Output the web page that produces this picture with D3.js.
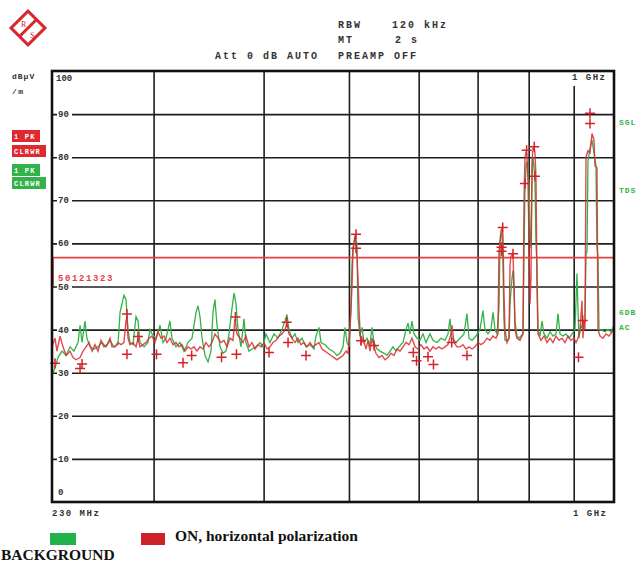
<!DOCTYPE html>
<html>
<head>
<meta charset="utf-8">
<script src="https://cdn.jsdelivr.net/npm/d3@7"></script>
<style>
  body { margin: 0; background: #fff; }
  .mono { font-family: "Liberation Mono", "DejaVu Sans Mono", monospace; font-weight: bold; }
</style>
</head>
<body>
<script>
// frequency axis (MHz, log) and level axis (dBuV/m)
var freqTicks = [300, 400, 500, 600, 700, 800, 900];
var levelTicks = [10, 20, 30, 40, 50, 60, 70, 80, 90];
var limitLevel = 56.7;

// BACKGROUND trace (green)
var bgFreq = [230,231.8,233.6,236.1,238.6,241.1,243.6,246.2,247.5,248.8,250.7,252.0,254.0,256.7,259.4,262.1,264.9,267.7,270.5,273.3,
  274.8,276.2,277.6,279.1,280.6,282.0,284.3,286.5,288.0,289.5,292.6,295.6,297.2,298.7,301.9,305.1,307.5,309.9,313.1,314.8,
  318.1,321.4,324.8,328.2,331.7,335.2,336.9,338.7,340.5,343.2,345.9,348.6,350.4,352.2,354.1,356.9,359.7,362.5,365.4,368.3,
  370.2,372.1,374.1,377.0,380.0,382.0,385.0,388.0,392.1,396.2,399.4,402.5,406.7,411.0,415.3,419.7,423.0,425.2,427.4,430.8,
  434.2,437.6,442.2,446.9,451.6,456.3,458.7,462.3,464.8,469.6,474.6,479.6,484.6,488.4,492.3,494.9,497.5,500.1,502.7,504.0,
  505.3,508.0,510.6,512.0,514.6,517.4,520.1,524.2,528.3,531.1,533.8,538.1,542.3,548.0,552.3,556.7,561.0,565.5,569.9,575.9,
  580.4,583.5,586.5,589.6,592.7,597.4,602.1,606.8,611.6,618.0,622.9,629.5,636.1,642.8,647.8,651.2,654.6,661.5,668.5,675.5,
  680.8,684.4,689.8,697.0,704.4,709.9,713.6,719.3,724.9,728.7,732.6,736.4,740.2,742.2,744.1,746.1,748.0,750.0,752.0,755.9,
  759.9,761.9,765.9,767.9,769.9,771.9,775.9,780.0,784.1,788.2,790.3,792.3,794.4,796.5,798.6,800.7,802.8,804.9,807.0,809.1,
  811.2,813.3,815.5,817.6,819.7,824.0,828.4,832.7,839.3,845.9,852.5,859.2,863.7,868.3,875.1,882.0,888.9,896.0,903.0,907.7,
  910.1,912.5,917.3,922.1,926.9,929.4,931.8,934.2,939.1,944.1,949.0,954.0,956.5,959.0,961.5,969.1,976.7,984.4,992.1,1000];
var bgLevel = [29.5,31,33.5,35,34,36,35,37,41,37,42,38,36,35.5,36,37,36,37.5,36,36.5,
  44,46,48,47,40,37,36.5,43,42,37,36,37,40,39,38,41,37,38,42,38,
  36,37,35,37,38,44,45.5,43,38,34,32.5,35,44,47,41,36,34.5,35,39,45,
  48.5,46,40,36,42.5,37,35,35.5,36,37,36,39,37,39,38,40,42,43.5,40,38,
  39,37,38,36,36.5,35.5,38.5,40.5,37,36.5,35.5,35,34,34.5,36,40.5,37,36,45,55,
  59,61.5,60,43,38.5,40.5,37,38,36.5,40.5,37,35.5,35,34.5,34,35,36,35,36,37,
  40,41.5,39,42,39,38,37.5,39,37,39,37.5,37,38,37.5,39,42.5,38,37,38,39,
  43.7,38,37.5,38.5,40,44.4,40,39,40,44,40,39,45,60,62,62.5,55,42,37.5,37.5,
  38,46,52,53.7,50,42,38.5,38,38.5,39,58,72,78,79,76,74,61,59,75,80,
  78,74,60,55,40,38.5,42,39,38,39.5,38.5,39,43.7,39,38.5,39,38,39,40,53,
  45,38,41,40,42,57.6,58,79,82,84,81,78,59,57,40,39.8,39.5,40,39.5,41];

// ON, horizontal polarization trace (red)
var onFreq = [230,231.8,233.0,234.9,236.7,238.6,241.1,243.0,244.9,247.5,249.4,251.4,253.4,255.4,257.4,259.4,261.4,263.5,265.6,267.7,
  269.1,271.2,273.3,275.5,277.6,279.1,279.8,280.6,282.0,284.3,286.5,288.0,289.5,291.8,294.1,296.4,298.7,301.1,303.5,305.9,
  308.3,310.7,313.1,315.6,318.1,320.6,323.1,325.7,328.2,330.8,333.4,336.0,338.7,341.4,344.0,346.8,349.5,352.2,355.0,357.8,
  360.6,363.5,366.3,369.2,371.2,373.1,376.0,379.0,382.0,385.0,388.0,391.1,394.2,397.3,400.4,403.6,406.7,409.9,413.2,416.4,
  419.7,423.0,425.2,427.4,430.8,434.2,437.6,441.1,444.5,448.0,451.6,455.1,458.7,462.3,466.0,469.6,473.3,477.1,480.8,484.6,
  488.4,492.3,496.2,498.8,501.4,504.0,505.3,508.0,509.3,510.6,512.0,513.3,514.6,516.0,518.7,522.8,525.5,528.3,531.1,533.8,
  536.6,540.9,545.1,549.4,553.8,558.1,562.5,566.9,571.4,575.9,580.4,585.0,589.6,594.3,598.9,603.7,608.4,613.2,618.0,622.9,
  627.8,632.8,637.7,642.8,647.8,652.9,654.6,658.1,663.3,668.5,673.7,679.1,684.4,689.8,695.2,700.7,706.2,711.8,717.4,723.0,
  728.7,734.5,738.3,740.2,744.1,746.1,748.0,750.0,752.0,755.9,759.9,761.9,763.8,767.9,769.9,771.9,775.9,782.0,788.2,790.3,
  792.3,794.4,796.5,798.6,800.7,802.8,804.9,807.0,809.1,811.2,813.3,815.5,817.6,819.7,826.2,832.7,839.3,845.9,852.5,859.2,
  866.0,872.8,879.7,886.6,893.6,900.7,905.4,910.1,914.9,919.7,922.1,924.5,926.9,929.4,934.2,939.1,944.1,949.0,951.5,956.5,
  959.0,964.0,971.6,979.3,987.0,994.8,1000];
var onLevel = [36,38,35,38.5,36,34,35,33.5,33,33.5,35,36,37,35,36.5,35,37.5,36,36.5,38,
  36,36,37,36.5,37,42,43,38,36.5,37,36,38,36,36.5,37,38,38.5,37,39.5,38,
  38.5,37,38,36.5,37,36,36.5,35,36,35.5,36,35,36,35.5,37,36,37,39,38,37,
  37.5,36,38,37.5,42.5,39,38,37,38.5,36,37,35.5,36.5,36,37,35.5,36,37,37.5,38.5,
  39,40,41.5,39,38,37,38,36.5,37,36,37,36,36.5,37,35.5,35,34.5,34,33.5,33,
  33.5,34,35,34.5,40,50,58,62,60,57,52,45,40,36.5,38,35.5,37.5,35,38,36,
  34.5,33.5,34,33,33.5,34.5,34,35.5,35,36,37,36.5,38,36,35.5,36.5,35.5,36,35,36,
  35.5,36,35.5,36,36.5,39,41,37,36,36,36.5,35.5,36,35.5,36,37,36.5,37,38,37.5,
  38.5,38,39,58,63,63.5,62,48,40,37,38,55,57,57.5,50,40,38,37.5,39,70,
  80,81,80.5,74,60,46,52,79,82,82.3,81,75,50,39,37.5,38.5,37,38,37,38.5,
  37.5,38,37,38.5,37.5,38,37,38,40,46.7,38,42,40,80,81.5,81,85.5,84,78,77.5,
  40,38.5,38,39,38.5,39.5,40];

// peak markers (+)
var pkFreq = [231.8,247.5,248.8,279.8,279.8,288.0,302.3,324.0,331.4,358.3,371.6,372.6,405.7,424.9,426.4,446.9,509.4,509.4,516.1,
  533.9,591.7,596.7,614.8,623.7,654.1,680.8,747.5,745.2,745.2,767.9,795.8,792.4,811.8,813.3,921.4,911.4,939.2,939.2];
var pkLevel = [32.2,31,32,43.6,34.3,38.4,34.3,32.3,34,33.6,42.9,34.3,34.7,41.7,37,34,62.1,58.9,37.4,
  36.3,34.7,32.8,33.7,31.9,37,34,63.7,59.1,58.2,57.6,81.6,73.9,82.4,75.6,42.1,33.6,90.2,87.8];

var width = 638, height = 563;
var margin = { top: 71, bottom: 61, left: 52, right: 24 };
var green = '#33b24a', red = '#dc2a30';

var svg = d3.select('body')
  .append('svg')
  .attr('width', width)
  .attr('height', height)
  .style('background', '#fff');

var xScale = d3.scaleLog()
  .domain([230, 1000])
  .range([margin.left, width - margin.right]);

var yScale = d3.scaleLinear()
  .domain([0, 100])
  .range([height - margin.bottom, margin.top]);

var x0 = margin.left, x1 = width - margin.right;
var y0 = height - margin.bottom, y1 = margin.top;

//Grid
svg.append('g')
  .attr('transform', `translate(0,${y0})`)
  .call(d3.axisBottom(xScale).tickValues(freqTicks).tickSize(-(y0 - y1)).tickFormat(''))
  .call(g => g.select('.domain').remove())
  .selectAll('line').attr('stroke', '#1e1e1e').attr('stroke-width', 1.6);

svg.append('g')
  .attr('transform', `translate(${x0},0)`)
  .call(d3.axisLeft(yScale).tickValues(levelTicks).tickSize(-(x1 - x0)).tickFormat(''))
  .call(g => g.select('.domain').remove())
  .selectAll('line').attr('stroke', '#1e1e1e').attr('stroke-width', 1.6);

//y labels with white gaps in the grid
levelTicks.forEach(function(v) {
  svg.append('rect').attr('x', x0 + 5).attr('y', yScale(v) - 4).attr('width', 15).attr('height', 8).attr('fill', '#fff');
  svg.append('text').attr('class', 'mono').attr('x', x0 + 6).attr('y', yScale(v) + 3)
    .attr('font-size', 9).attr('fill', '#333').text(v);
});
svg.append('text').attr('class', 'mono').attr('x', x0 + 4).attr('y', y1 + 10)
  .attr('font-size', 9).attr('fill', '#333').text('100');
svg.append('text').attr('class', 'mono').attr('x', x0 + 6).attr('y', y0 - 7)
  .attr('font-size', 9).attr('fill', '#333').text('0');

// top right 1 GHz label covers the grid line
svg.append('rect').attr('x', 569).attr('y', y1 + 1).attr('width', 43).attr('height', 14).attr('fill', '#fff');
svg.append('text').attr('class', 'mono').attr('x', 572).attr('y', 80)
  .attr('font-size', 9).attr('fill', '#333').style('letter-spacing', '1.5px').text('1 GHz');

//Traces
svg.append('clipPath').attr('id', 'plot')
  .append('rect').attr('x', x0).attr('y', y1).attr('width', x1 - x0).attr('height', y0 - y1);

var line = d3.line()
  .x(d => xScale(d[0]))
  .y(d => yScale(d[1]));

svg.append('path')
  .datum(d3.zip(bgFreq, bgLevel))
  .attr('clip-path', 'url(#plot)')
  .attr('fill', 'none')
  .attr('stroke', green)
  .attr('stroke-width', 1.3)
  .attr('d', line);

svg.append('path')
  .datum(d3.zip(onFreq, onLevel))
  .attr('clip-path', 'url(#plot)')
  .attr('fill', 'none')
  .attr('stroke', red)
  .attr('stroke-opacity', 0.85)
  .attr('stroke-width', 1.4)
  .attr('d', line);

//Limit line
svg.append('line')
  .attr('x1', x0).attr('x2', x1)
  .attr('y1', yScale(limitLevel)).attr('y2', yScale(limitLevel))
  .attr('stroke', '#e8403f').attr('stroke-width', 1.6);
svg.append('line')
  .attr('x1', x0 + 1).attr('x2', x0 + 1)
  .attr('y1', yScale(limitLevel)).attr('y2', yScale(50))
  .attr('stroke', '#e8403f').attr('stroke-width', 1.6);
svg.append('text').attr('class', 'mono').attr('x', x0 + 6).attr('y', yScale(limitLevel) + 23)
  .attr('font-size', 9).attr('fill', '#e8403f').style('letter-spacing', '1.6px').text('50121323');

//Peak markers
svg.selectAll('.pk')
  .data(d3.zip(pkFreq, pkLevel))
  .enter()
  .append('path')
  .attr('class', 'pk')
  .attr('transform', d => `translate(${xScale(d[0])},${yScale(d[1])})`)
  .attr('d', 'M-5,0H5M0,-5V5')
  .attr('stroke', '#d42228')
  .attr('stroke-width', 1.5);

//Frame
svg.append('rect')
  .attr('x', x0).attr('y', y1).attr('width', x1 - x0).attr('height', y0 - y1)
  .attr('fill', 'none').attr('stroke', '#111').attr('stroke-width', 2.6);

//Header
function mono(x, y, t, size, fill, ls) {
  return svg.append('text').attr('class', 'mono').attr('x', x).attr('y', y)
    .attr('font-size', size).attr('fill', fill || '#333')
    .style('letter-spacing', (ls == null ? 2 : ls) + 'px').text(t);
}
mono(338, 28, 'RBW', 10);
mono(392, 28, '120 kHz', 10);
mono(338, 43, 'MT', 10);
mono(395, 43, '2 s', 10);
mono(215, 59, 'Att 0 dB AUTO', 10);
mono(338, 59, 'PREAMP OFF', 10);

mono(12, 79, 'dBµV', 8, '#333', 1);
mono(12, 94, '/m', 8, '#333', 1.5);

// left side trace boxes
[['1 PK', 130, 28, red], ['CLRWR', 145, 34, red], ['1 PK', 164, 28, green], ['CLRWR', 177, 34, green]].forEach(function(b) {
  svg.append('rect').attr('x', 12).attr('y', b[1]).attr('width', b[2]).attr('height', 12).attr('fill', b[3]);
  mono(14, b[1] + 9, b[0], 7, '#fff', 1.2);
});

// right side labels
mono(619, 125, 'SGL', 8, green, 1);
mono(619, 193, 'TDS', 8, green, 1);
mono(619, 315, '6DB', 8, green, 1);
mono(619, 330, 'AC', 8, green, 1);

// bottom axis labels
mono(52, 516, '230 MHz', 9, '#333', 1.5);
mono(573, 516, '1 GHz', 9, '#333', 1.5);

//Logo
var logo = svg.append('g').attr('transform', 'translate(28,28)');
logo.append('rect').attr('x', -12).attr('y', -12).attr('width', 24).attr('height', 24)
  .attr('transform', 'rotate(45)').attr('fill', 'none').attr('stroke', '#d8262c').attr('stroke-width', 3);
logo.append('line').attr('x1', 8).attr('y1', -8).attr('x2', -8).attr('y2', 8)
  .attr('stroke', '#d8262c').attr('stroke-width', 3);
logo.append('text').attr('x', -7).attr('y', -1).attr('font-size', 8).attr('fill', '#d8262c')
  .attr('font-family', 'Liberation Serif').text('R');
logo.append('text').attr('x', 2).attr('y', 10).attr('font-size', 8).attr('fill', '#d8262c')
  .attr('font-family', 'Liberation Serif').text('S');

//Legend
svg.append('rect').attr('x', 50).attr('y', 533).attr('width', 26).attr('height', 12).attr('fill', '#22b24c');
svg.append('rect').attr('x', 141).attr('y', 533).attr('width', 24).attr('height', 12).attr('fill', '#cc2229');
svg.append('text').attr('x', 175).attr('y', 541)
  .attr('font-family', '"Liberation Serif", serif').attr('font-weight', 'bold').attr('font-size', 15.5)
  .attr('fill', '#111').text('ON, horizontal polarization');
svg.append('text').attr('x', 1).attr('y', 560)
  .attr('font-family', '"Liberation Serif", serif').attr('font-weight', 'bold').attr('font-size', 15.5)
  .attr('fill', '#111').text('BACKGROUND');
</script>
</body>
</html>
